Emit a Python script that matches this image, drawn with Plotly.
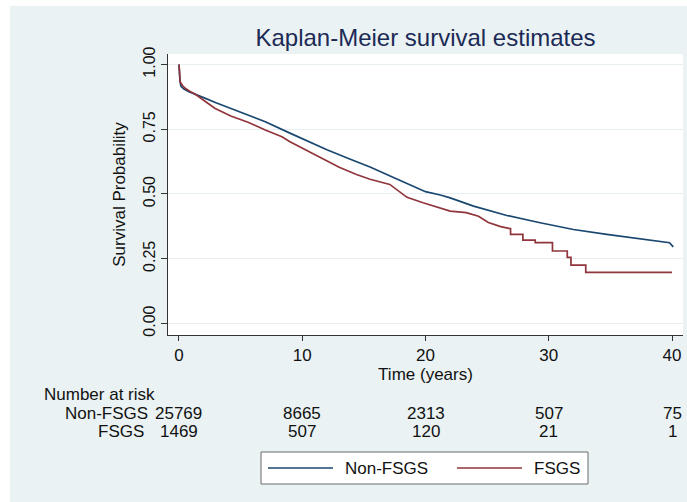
import plotly.graph_objects as go

# ---------------- data ----------------
t_non = [0, 0.02, 0.08, 0.16, 0.4, 0.8, 1.3, 2, 3, 4.2, 5.5, 7.0, 9.0, 10.2, 12, 13.9,
         15.5, 17.4, 20, 21.2, 22, 23.9, 26.6, 29.3, 32, 34.7, 37.4, 39.8, 40.1]
s_non = [1.0, 0.965, 0.935, 0.916, 0.905, 0.895, 0.886, 0.872, 0.852, 0.831, 0.806, 0.779,
         0.735, 0.709, 0.671, 0.634, 0.604, 0.564, 0.509, 0.496, 0.485, 0.453, 0.417, 0.389,
         0.363, 0.344, 0.328, 0.312, 0.296]

t_fsgs = [0, 0.03, 0.1, 0.3, 0.5, 0.9, 1.3, 2, 2.9, 4.2, 5.6, 7.0, 8.35, 9.0, 10.2, 11.7,
          13.0, 14.4, 15.5, 17.1, 17.9, 18.5, 19.8, 21.2, 22.0, 23.3, 24.3, 25.1, 25.5, 26.1,
          26.9, 26.9, 27.9, 27.9, 28.9, 28.9, 30.3, 30.3, 31.5, 31.5, 31.8, 31.8, 33.0, 33.0, 40.0]
s_fsgs = [1.0, 0.95, 0.932, 0.918, 0.908, 0.896, 0.886, 0.862, 0.831, 0.801, 0.777, 0.747,
          0.721, 0.702, 0.672, 0.633, 0.603, 0.575, 0.557, 0.537, 0.51, 0.487, 0.466, 0.447,
          0.434, 0.428, 0.414, 0.39, 0.383, 0.374, 0.366, 0.344, 0.344, 0.322, 0.322, 0.312,
          0.312, 0.280, 0.280, 0.255, 0.255, 0.225, 0.225, 0.197, 0.197]

x_ticks = [0, 10, 20, 30, 40]
y_ticks = [0, 0.25, 0.5, 0.75, 1.0]
y_ticktext = ["0.00", "0.25", "0.50", "0.75", "1.00"]

risk_times = [0, 10, 20, 30, 40]
risk_non = [25769, 8665, 2313, 507, 75]
risk_fsgs = [1469, 507, 120, 21, 1]

group_names = ["Non-FSGS", "FSGS"]

# ---------------- style ----------------
W, H = 687, 502
ML, MR, MT, MB = 168, 4, 54, 167
PW, PH = W - ML - MR, H - MT - MB
BLUE = "#1A476F"
RED = "#90353B"
BG = "#EAF2F3"
FONT = "Liberation Sans, Arial, Helvetica, sans-serif"
TXT = "#111111"
FS = 17


def px_x(px):
    return (px - ML) / PW


def px_y(py):
    return (H - MB - py) / PH


fig = go.Figure()
fig.add_trace(go.Scatter(x=t_non, y=s_non, mode="lines", name=group_names[0],
                         line=dict(color=BLUE, width=1.7), showlegend=False))
fig.add_trace(go.Scatter(x=t_fsgs, y=s_fsgs, mode="lines", name=group_names[1],
                         line=dict(color=RED, width=1.7), showlegend=False))

annotations = []
# risk table
annotations.append(dict(text="Number at risk", xref="paper", yref="paper",
                        x=px_x(42), y=px_y(394), xanchor="left", yanchor="middle",
                        showarrow=False, font=dict(size=FS, color=TXT, family=FONT)))
annotations.append(dict(text=group_names[0], xref="paper", yref="paper",
                        x=px_x(150), y=px_y(413), xanchor="right", yanchor="middle",
                        showarrow=False, font=dict(size=FS, color=TXT, family=FONT)))
annotations.append(dict(text=group_names[1], xref="paper", yref="paper",
                        x=px_x(146), y=px_y(431), xanchor="right", yanchor="middle",
                        showarrow=False, font=dict(size=FS, color=TXT, family=FONT)))
for t, a, b in zip(risk_times, risk_non, risk_fsgs):
    annotations.append(dict(text=str(a), xref="x", yref="paper", x=t, y=px_y(413),
                            xanchor="center", yanchor="middle", showarrow=False,
                            font=dict(size=FS, color=TXT, family=FONT)))
    annotations.append(dict(text=str(b), xref="x", yref="paper", x=t, y=px_y(431),
                            xanchor="center", yanchor="middle", showarrow=False,
                            font=dict(size=FS, color=TXT, family=FONT)))

# custom legend
annotations.append(dict(text=group_names[0], xref="paper", yref="paper",
                        x=px_x(343), y=px_y(468), xanchor="left", yanchor="middle",
                        showarrow=False, font=dict(size=FS, color=TXT, family=FONT)))
annotations.append(dict(text=group_names[1], xref="paper", yref="paper",
                        x=px_x(532), y=px_y(468), xanchor="left", yanchor="middle",
                        showarrow=False, font=dict(size=FS, color=TXT, family=FONT)))

shapes = [
    # white outer strips (top and left)
    dict(type="rect", xref="paper", yref="paper", x0=px_x(0), x1=px_x(W), y0=px_y(6), y1=px_y(0),
         fillcolor="white", line=dict(width=0), layer="above"),
    dict(type="rect", xref="paper", yref="paper", x0=px_x(0), x1=px_x(10), y0=px_y(H), y1=px_y(0),
         fillcolor="white", line=dict(width=0), layer="above"),
    # legend box
    dict(type="rect", xref="paper", yref="paper", x0=px_x(261), x1=px_x(588),
         y0=px_y(484), y1=px_y(452), fillcolor="white",
         line=dict(color="#6a6a6a", width=1), layer="below"),
    dict(type="line", xref="paper", yref="paper", x0=px_x(268), x1=px_x(333),
         y0=px_y(468), y1=px_y(468), line=dict(color=BLUE, width=1.7)),
    dict(type="line", xref="paper", yref="paper", x0=px_x(457), x1=px_x(522),
         y0=px_y(468), y1=px_y(468), line=dict(color=RED, width=1.7)),
]

fig.update_layout(
    width=W, height=H,
    margin=dict(l=ML, r=MR, t=MT, b=MB, pad=0),
    paper_bgcolor=BG, plot_bgcolor="white",
    font=dict(family=FONT, color=TXT, size=FS),
    title=dict(text="Kaplan-Meier survival estimates", x=px_x(425.5), xref="paper",
               xanchor="center", y=1 - 38 / H, yref="container", yanchor="middle",
               font=dict(size=24, color="#1C2A56", family=FONT)),
    xaxis=dict(range=[-0.892, 40.89], tickvals=x_ticks, ticks="outside", ticklen=5,
               tickcolor="#333333", showline=True, linecolor="#333333", linewidth=1,
               showgrid=False, zeroline=False, tickfont=dict(size=FS),
               title=dict(text="Time (years)", font=dict(size=FS), standoff=1)),
    yaxis=dict(range=[-0.0444, 1.0405], tickvals=y_ticks, ticktext=y_ticktext,
               tickangle=-90, ticks="outside", ticklen=6, tickcolor="#333333",
               showline=True, linecolor="#333333", linewidth=1,
               showgrid=True, gridcolor="#E6EEF1", gridwidth=1, zeroline=False,
               tickfont=dict(size=16),
               title=dict(text="Survival Probability", font=dict(size=FS), standoff=10)),
    annotations=annotations,
    shapes=shapes,
)

fig.write_html(
    "out.html",
    config={"displayModeBar": False},
    post_script="document.body.style.margin='0';document.body.style.padding='0';"
                "document.body.style.overflow='hidden';",
)
